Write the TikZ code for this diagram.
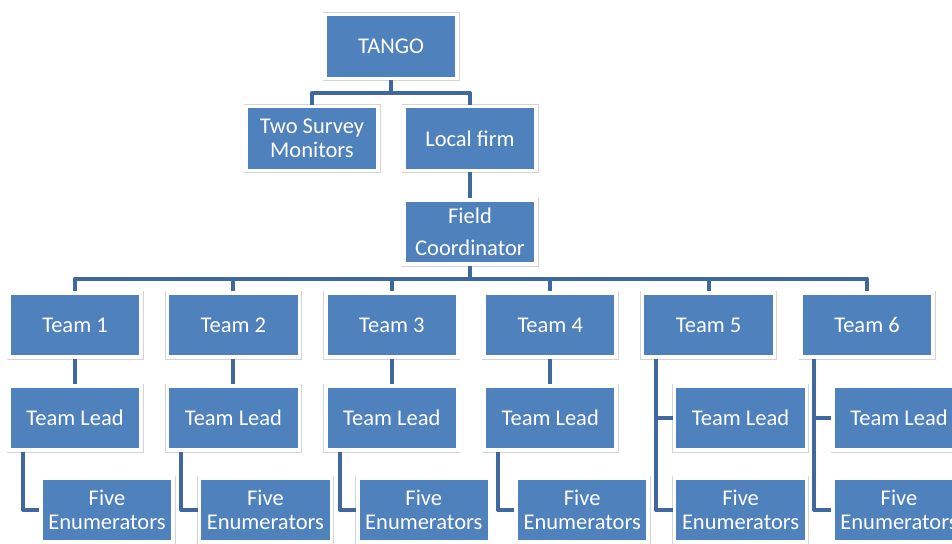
\documentclass[tikz,border=0pt]{standalone}
\usepackage{fontspec}
\setmainfont{Carlito}
\usepackage{tikz}
\usetikzlibrary{positioning, calc}
\definecolor{boxblue}{RGB}{79,129,189}
\definecolor{linkblue}{RGB}{62,104,158}

\begin{document}
\begin{tikzpicture}[x=1pt,y=-1pt,
    box/.style={rectangle,fill=boxblue,draw=white,line width=3.5pt,
        preaction={draw=black!17,line width=5pt},
        minimum width=132pt,minimum height=64pt,inner sep=2pt,
        text=white,align=center,font=\fontsize{22.5}{23.5}\selectfont},
    link/.style={draw=linkblue,line width=4pt,line join=round}]
    \useasboundingbox (0,0) rectangle (952,543);
    \clip (0,0) rectangle (952,543);

    \node[box] (tango) at (391,46.5) {TANGO};
    \node[box] (monitors) at (312,138.5) {Two Survey\\Monitors};
    \node[box] (firm) at (470,138.5) {Local firm};
    \node[box] (coord) at (470,232) {Field\\[9pt]Coordinator};

    \foreach \i in {1,...,6} {
        \pgfmathsetmacro{\tx}{75+(\i-1)*158.4}
        \node[box] (team\i) at (\tx,325) {Team \i};
        \ifnum\i<5
            \node[box] (lead\i) at (\tx,418) {Team Lead};
        \else
            \node[box] (lead\i) at (\tx+32,418) {Team Lead};
        \fi
        \node[box] (enum\i) at (\tx+32,510) {Five\\Enumerators};
    }

    % upper levels
    \coordinate (top bar) at (391,93);
    \draw[link] (tango.south) -- (top bar);
    \draw[link] (monitors.north) |- (top bar) -| (firm.north);
    \draw[link] (firm) -- (coord);
    \coordinate (bus) at (470,278.5);
    \draw[link] (coord.south) -- (bus);
    \draw[link] (team1.north) |- (bus) -| (team6.north);
    \foreach \i in {2,...,5} {
        \draw[link] (team\i.north) -- (team\i.north |- bus);
    }

    % teams
    \foreach \i in {1,...,4} {
        \draw[link] (team\i) -- (lead\i);
        \draw[link] ([xshift=-52pt]lead\i.south) |- (enum\i.west);
    }
    \foreach \i in {5,6} {
        \draw[link] ([xshift=-53pt]team\i.south) |- (lead\i.west);
        \draw[link] ([xshift=-53pt]team\i.south) |- (enum\i.west);
    }
\end{tikzpicture}
\end{document}
